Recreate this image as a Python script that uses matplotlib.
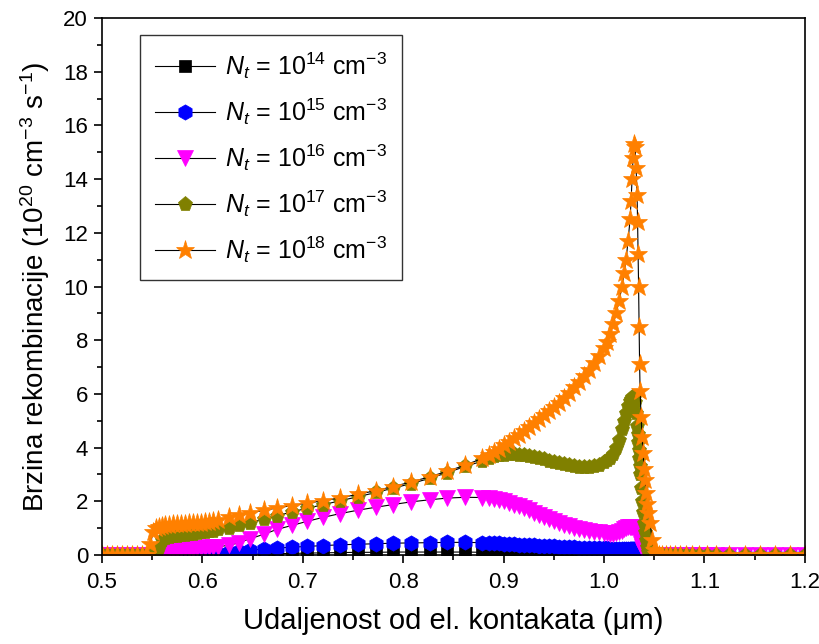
import matplotlib
matplotlib.use("Agg")
import matplotlib.pyplot as plt
from matplotlib.ticker import MultipleLocator

plt.rcParams["font.family"] = ["Liberation Sans", "DejaVu Sans"]
plt.rcParams["mathtext.fontset"] = "custom"
plt.rcParams["mathtext.rm"] = "Liberation Sans"
plt.rcParams["mathtext.it"] = "Liberation Sans:italic"

# simulation mesh (um), shared by all curves
x_um = [0.500, 0.505, 0.510, 0.515, 0.520, 0.525, 0.530, 0.535, 0.540, 0.545,
        0.548, 0.551, 0.554, 0.557, 0.560, 0.563, 0.567, 0.571, 0.575, 0.579,
        0.583, 0.587, 0.591, 0.595, 0.599, 0.603, 0.607, 0.611,
        0.616, 0.626, 0.636, 0.647, 0.661, 0.674, 0.689, 0.704, 0.720, 0.737,
        0.755, 0.773, 0.790, 0.808, 0.827, 0.844, 0.862, 0.879,
        0.885, 0.890, 0.895, 0.900, 0.905, 0.910, 0.915, 0.920, 0.925, 0.930,
        0.935, 0.940, 0.945, 0.950, 0.955, 0.960, 0.965, 0.970, 0.975, 0.980,
        0.985, 0.990, 0.995, 1.000,
        1.003, 1.006, 1.009, 1.012, 1.015, 1.018, 1.020, 1.022, 1.024, 1.026,
        1.027, 1.028, 1.029, 1.030,
        1.031, 1.032, 1.033, 1.0335, 1.034, 1.0345, 1.035, 1.0355, 1.036, 1.037,
        1.038, 1.039, 1.040, 1.041, 1.042, 1.043, 1.044, 1.046, 1.048, 1.050, 1.052,
        1.055, 1.058, 1.062, 1.066, 1.071, 1.076, 1.082, 1.088, 1.095, 1.103,
        1.112, 1.125, 1.140, 1.155, 1.170, 1.185, 1.200]

# recombination rate (1e20 cm^-3 s^-1)
r_14 = [0, 0, 0, 0, 0, 0, 0, 0, 0, 0,
        0, 0, 0, 0, 0, 0, 0, 0, 0, 0,
        0, 0, 0, 0, 0, 0, 0, 0,
        0, 0.01, 0.02, 0.03, 0.04, 0.05, 0.06, 0.07, 0.08, 0.09,
        0.10, 0.10, 0.11, 0.11, 0.11, 0.11, 0.11, 0.10,
        0.10, 0.09, 0.08, 0.07, 0.06, 0.05, 0.045, 0.04, 0.035, 0.03,
        0.025, 0.02, 0.015, 0.01, 0.01, 0.005, 0.005, 0, 0, 0,
        0, 0, 0, 0,
        0, 0, 0, 0, 0, 0, 0, 0, 0, 0,
        0, 0, 0, 0,
        0, 0, 0, 0, 0, 0, 0, 0, 0, 0,
        0, 0, 0, 0, 0, 0, 0, 0, 0, 0, 0,
        0, 0, 0, 0, 0, 0, 0, 0, 0, 0,
        0, 0, 0, 0, 0, 0, 0]

r_15 = [0, 0, 0, 0, 0, 0, 0, 0, 0, 0,
        0, 0, 0, 0, 0, 0, 0, 0, 0, 0,
        0, 0, 0, 0, 0.01, 0.02, 0.03, 0.04,
        0.06, 0.10, 0.14, 0.18, 0.22, 0.26, 0.29, 0.32, 0.35, 0.38,
        0.40, 0.42, 0.44, 0.45, 0.46, 0.47, 0.47, 0.46,
        0.45, 0.44, 0.43, 0.42, 0.41, 0.40, 0.39, 0.38, 0.37, 0.36,
        0.35, 0.34, 0.33, 0.32, 0.31, 0.30, 0.29, 0.28, 0.27, 0.27,
        0.26, 0.26, 0.25, 0.25,
        0.25, 0.24, 0.24, 0.24, 0.23, 0.23, 0.23, 0.23, 0.23, 0.22,
        0.22, 0.22, 0.22, 0.22,
        0.21, 0.20, 0.19, 0.18, 0.17, 0.15, 0.13, 0.11, 0.09, 0.06,
        0.03, 0.01, 0, 0, 0, 0, 0, 0, 0, 0, 0,
        0, 0, 0, 0, 0, 0, 0, 0, 0, 0,
        0, 0, 0, 0, 0, 0, 0]

r_16 = [0, 0, 0, 0, 0, 0, 0, 0, 0, 0,
        0, 0, 0, 0, 0.02, 0.12, 0.17, 0.19, 0.20, 0.21,
        0.22, 0.23, 0.24, 0.25, 0.26, 0.27, 0.28, 0.29,
        0.31, 0.36, 0.45, 0.60, 0.77, 0.95, 1.10, 1.25, 1.40, 1.54,
        1.67, 1.78, 1.88, 1.98, 2.06, 2.12, 2.15, 2.14,
        2.12, 2.09, 2.05, 2.00, 1.94, 1.88, 1.81, 1.74, 1.66, 1.58,
        1.50, 1.42, 1.34, 1.27, 1.20, 1.13, 1.07, 1.02, 0.97, 0.93,
        0.89, 0.86, 0.84, 0.82,
        0.81, 0.80, 0.80, 0.81, 0.84, 0.90, 0.95, 1.00, 1.03, 1.05,
        1.06, 1.06, 1.06, 1.05,
        1.03, 1.00, 0.95, 0.90, 0.85, 0.78, 0.70, 0.62, 0.55, 0.42,
        0.30, 0.20, 0.12, 0.06, 0.02, 0, 0, 0, 0, 0, 0,
        0, 0, 0, 0, 0, 0, 0, 0, 0, 0,
        0, 0, 0, 0, 0, 0, 0]

r_17 = [0, 0, 0, 0, 0, 0, 0, 0, 0, 0,
        0, 0, 0.05, 0.30, 0.55, 0.62, 0.67, 0.70, 0.72, 0.74,
        0.76, 0.78, 0.80, 0.82, 0.84, 0.86, 0.88, 0.90,
        0.95, 1.02, 1.10, 1.20, 1.33, 1.46, 1.60, 1.74, 1.87, 2.02,
        2.17, 2.33, 2.49, 2.66, 2.86, 3.07, 3.30, 3.50,
        3.60, 3.68, 3.72, 3.74, 3.75, 3.75, 3.74, 3.72, 3.69, 3.65,
        3.61, 3.56, 3.51, 3.46, 3.42, 3.38, 3.34, 3.31, 3.29, 3.28,
        3.28, 3.30, 3.36, 3.45,
        3.52, 3.62, 3.78, 4.00, 4.30, 4.70, 5.00, 5.30, 5.55, 5.75,
        5.82, 5.87, 5.88, 5.85,
        5.70, 5.30, 4.80, 4.50, 4.20, 3.90, 3.60, 3.30, 3.00, 2.50,
        2.00, 1.60, 1.20, 0.85, 0.55, 0.30, 0.12, 0.03, 0, 0, 0,
        0, 0, 0, 0, 0, 0, 0, 0, 0, 0,
        0, 0, 0, 0, 0, 0, 0]

r_18 = [0, 0, 0, 0, 0, 0, 0, 0, 0, 0,
        0.40, 0.85, 1.00, 1.05, 1.08, 1.10, 1.12, 1.14, 1.15, 1.16,
        1.17, 1.18, 1.19, 1.20, 1.21, 1.22, 1.24, 1.26,
        1.32, 1.40, 1.48, 1.57, 1.66, 1.75, 1.84, 1.93, 2.02, 2.13,
        2.26, 2.40, 2.55, 2.72, 2.92, 3.12, 3.35, 3.60,
        3.72, 3.82, 3.95, 4.08, 4.22, 4.35, 4.48, 4.62, 4.76, 4.90,
        5.05, 5.20, 5.36, 5.52, 5.68, 5.86, 6.05, 6.25, 6.45, 6.67,
        6.90, 7.15, 7.40, 7.70,
        7.95, 8.25, 8.60, 9.00, 9.45, 10.0, 10.5, 11.0, 11.7, 12.5,
        13.2, 14.0, 14.8, 15.3,
        15.2, 14.4, 13.4, 12.4, 11.2, 10.0, 8.5, 7.1, 6.1, 5.15,
        4.4, 3.8, 3.2, 2.8, 2.3, 1.9, 1.55, 1.2, 0.56, 0.2, 0.05,
        0, 0, 0, 0, 0, 0, 0, 0, 0, 0,
        0, 0, 0, 0, 0, 0, 0]

series = [r_14, r_15, r_16, r_17, r_18]
exponents = ["14", "15", "16", "17", "18"]
colors = ["#000000", "#0000FF", "#FF00FF", "#808000", "#FF8000"]
markers = ["s", "h", "v", "p", "*"]
msizes = [8, 11, 11, 11, 14]

fig = plt.figure(figsize=(8.2, 6.44), dpi=100)
ax = fig.add_axes([0.1244, 0.1382, 0.857, 0.8338])

for y, e, c, m, s in zip(series, exponents, colors, markers, msizes):
    ax.plot(x_um, y, color="black", lw=0.8, marker=m, ms=s,
            markerfacecolor=c, markeredgecolor=c, markeredgewidth=0.5,
            label=r"$N_t$ = 10$^{%s}$ cm$^{-3}$" % e)

ax.set_xlim(0.5, 1.2)
ax.set_ylim(0, 20)
ax.xaxis.set_major_locator(MultipleLocator(0.1))
ax.xaxis.set_minor_locator(MultipleLocator(0.05))
ax.yaxis.set_major_locator(MultipleLocator(2))
ax.yaxis.set_minor_locator(MultipleLocator(1))
ax.set_xticks([0.5, 0.6, 0.7, 0.8, 0.9, 1.0, 1.1, 1.2])
ax.set_xticklabels(["0.5", "0.6", "0.7", "0.8", "0.9", "1.0", "1.1", "1.2"])

for sp in ax.spines.values():
    sp.set_linewidth(1.2)
ax.tick_params(which="major", direction="out", length=6, width=1.2,
               labelsize=16, pad=4)
ax.tick_params(axis="x", which="major", pad=6)
ax.tick_params(which="minor", direction="out", length=3.5, width=1.2)
ax.tick_params(which="both", top=False, right=False)

ax.set_xlabel("Udaljenost od el. kontakata (μm)", fontsize=21, labelpad=10)
ax.set_ylabel(r"Brzina rekombinacije (10$^{20}$ cm$^{-3}$ s$^{-1}$)",
              fontsize=20, labelpad=8)

leg = ax.legend(loc="upper left", bbox_to_anchor=(0.054, 0.968),
                borderaxespad=0, fontsize=18, frameon=True, fancybox=False,
                edgecolor="black", handlelength=2.4, labelspacing=0.62,
                borderpad=0.6, handletextpad=0.4)
leg.get_frame().set_linewidth(1.0)

fig.savefig("out.png", dpi=100)
